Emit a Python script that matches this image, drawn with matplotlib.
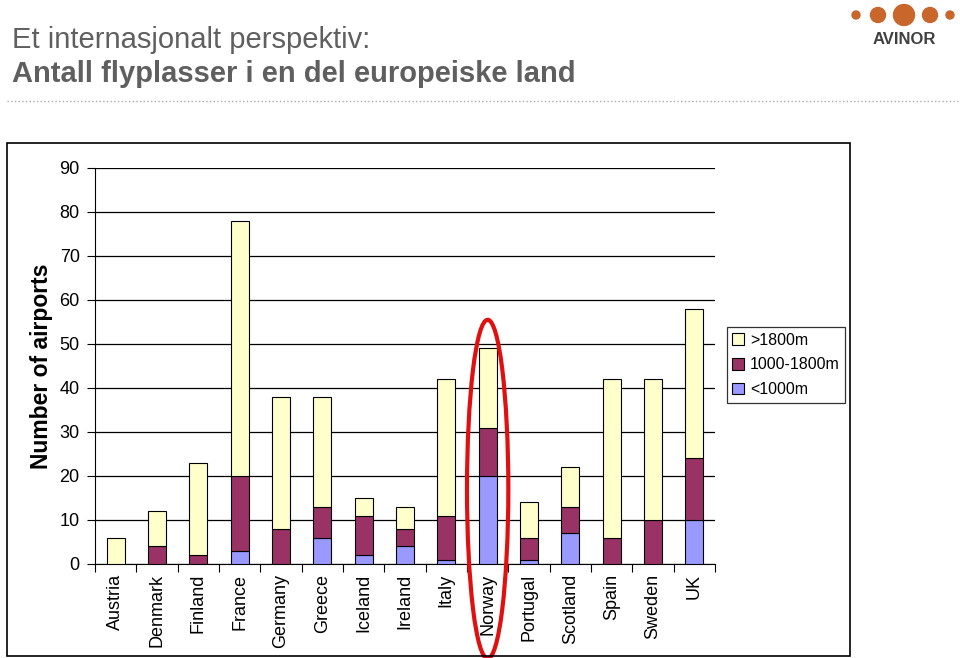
import matplotlib.pyplot as plt
from matplotlib.patches import Ellipse, Rectangle
import numpy as np

plt.rcParams['font.family'] = ['Liberation Sans', 'DejaVu Sans']

countries = ['Austria', 'Denmark', 'Finland', 'France', 'Germany', 'Greece', 'Iceland',
             'Ireland', 'Italy', 'Norway', 'Portugal', 'Scotland', 'Spain', 'Sweden', 'UK']
short = [0, 0, 0, 3, 0, 6, 2, 4, 1, 20, 1, 7, 0, 0, 10]      # <1000m
medium = [0, 4, 2, 17, 8, 7, 9, 4, 10, 11, 5, 6, 6, 10, 14]  # 1000-1800m
long_ = [6, 8, 21, 58, 30, 25, 4, 5, 31, 18, 8, 9, 36, 32, 34]  # >1800m

fig = plt.figure(figsize=(9.6, 6.58), dpi=100)

# outer chart frame
fig.patches.append(Rectangle((7 / 960, 1 - 656 / 658), 843 / 960, 513 / 658,
                             transform=fig.transFigure, fill=False,
                             edgecolor='black', linewidth=1.2))

ax = fig.add_axes([95 / 960, 1 - 564 / 658, 620 / 960, 396 / 658])
x = np.arange(len(countries)) + 0.5
w = 0.44
s = np.array(short)
m = np.array(medium)
l = np.array(long_)
ax.bar(x, s, w, color='#9999ff', edgecolor='black', linewidth=0.8, label='<1000m', zorder=3)
ax.bar(x, m, w, bottom=s, color='#993366', edgecolor='black', linewidth=0.8,
       label='1000-1800m', zorder=3)
ax.bar(x, l, w, bottom=s + m, color='#ffffcc', edgecolor='black', linewidth=0.8,
       label='>1800m', zorder=3)

ax.set_xlim(0, len(countries))
ax.set_ylim(0, 90)
ax.set_yticks(range(0, 91, 10))
ax.yaxis.grid(True, color='black', linewidth=0.9, zorder=0)
ax.set_xticks(np.arange(len(countries) + 1), minor=False)
ax.set_xticklabels([])
ax.tick_params(axis='x', direction='out', length=6, width=0.8)
ax.tick_params(axis='y', direction='out', length=6, width=0.8, labelsize=13, pad=5)
for sp in ['top', 'right']:
    ax.spines[sp].set_visible(False)
for xi, name in zip(x, countries):
    ax.text(xi, -2.2, name, rotation=90, ha='center', va='top', fontsize=13)

ax.set_ylabel('Number of airports', fontsize=16.5, fontweight='bold')
ax.yaxis.set_label_coords(-0.068, 0.5)

h, lab = ax.get_legend_handles_labels()
leg = ax.legend(h[::-1], lab[::-1], loc='upper left', bbox_to_anchor=(1.019, 0.598),
                borderaxespad=0, fontsize=11.5, frameon=True, fancybox=False,
                edgecolor='black', handlelength=0.75, handleheight=0.75,
                handletextpad=0.35, labelspacing=0.6, borderpad=0.35)
leg.get_frame().set_linewidth(0.9)

# red ellipse around Norway
ax.add_patch(Ellipse((9.5, 17), 1.0, 77, fill=False, edgecolor='#e01010',
                     linewidth=3, clip_on=False, zorder=5))

# title
fig.text(12 / 960, 1 - 40 / 658, 'Et internasjonalt perspektiv:', fontsize=21,
         color='#5f5f5f', va='center')
fig.text(12 / 960, 1 - 74 / 658, 'Antall flyplasser i en del europeiske land', fontsize=21,
         fontweight='bold', color='#5f5f5f', va='center')
fig.add_artist(plt.Line2D([7 / 960, 1], [1 - 101 / 658] * 2, color='#aaaaaa',
                          linewidth=1, linestyle=':'))

# logo
for cx, r in [(856, 4), (878, 7.5), (904, 10.5), (930, 7.5), (950, 4)]:
    fig.patches.append(Ellipse((cx / 960, 1 - 15 / 658), 2 * r / 960, 2 * r / 658,
                               transform=fig.transFigure, color='#c8662c'))
fig.text(904 / 960, 1 - 40 / 658, 'AVINOR', fontsize=12, fontweight='bold',
         color='#404040', ha='center', va='center')

fig.savefig('out.png', dpi=100)
